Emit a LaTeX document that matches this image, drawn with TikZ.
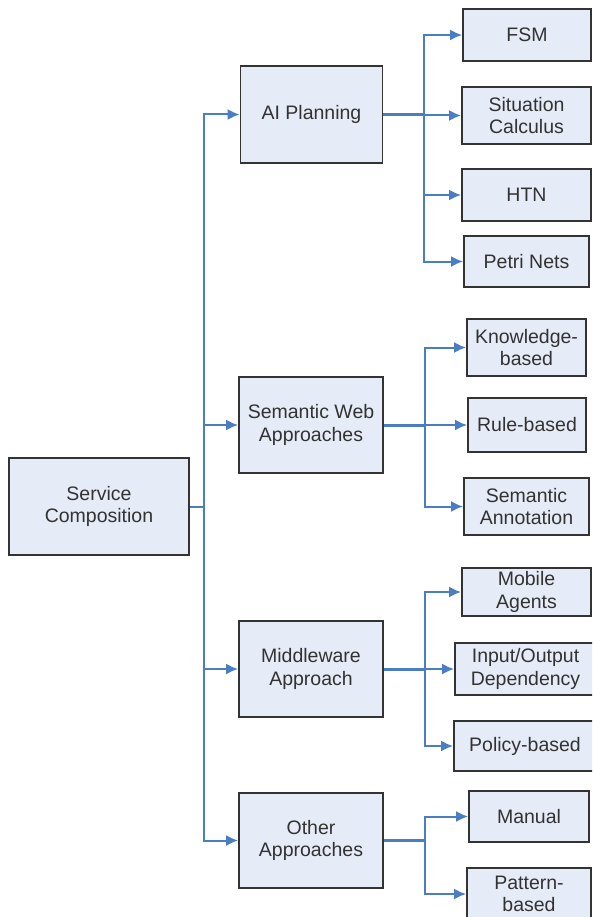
\documentclass[tikz,border=0pt]{standalone}
\usepackage{fontspec}
\setmainfont{Liberation Sans}
\usepackage{tikz}
\usetikzlibrary{arrows.meta, positioning, calc}
\usepackage{color}
\definecolor{boxfill}{RGB}{230,236,247}
\definecolor{linkblue}{RGB}{74,126,196}
\definecolor{txtgray}{RGB}{50,50,50}

\begin{document}
\begin{tikzpicture}[x=1pt, y=-1pt, >={Latex[length=12pt,width=11pt]}, semithick]
\tikzstyle{box}=[draw=black!80, fill=boxfill, line width=1.8pt, align=center, inner sep=0pt, text=txtgray, font=\fontsize{19.5}{22.5}\selectfont]
\tikzstyle{link}=[->, draw=linkblue, line width=2pt]
\tikzstyle{stem}=[draw=linkblue, line width=3pt]
\useasboundingbox (0,0) rectangle (592,917);
\clip (0,0) rectangle (592,917);
% root and the four families
\node[box, minimum width=180, minimum height=97] (SC) at (99,506.5) {Service\\Composition};
\node[box, minimum width=142, minimum height=97] (AI) at (311.5,114.5) {AI Planning};
\node[box, minimum width=144, minimum height=96] (SW) at (311,425) {Semantic Web\\Approaches};
\node[box, minimum width=144, minimum height=96] (MW) at (311,669) {Middleware\\Approach};
\node[box, minimum width=144, minimum height=95] (OA) at (311,840.5) {Other\\Approaches};
% leaves
\node[box, minimum width=128, minimum height=52] (FSM) at (527,35) {FSM};
\node[box, minimum width=129, minimum height=57] (SCalc) at (526.5,115.5) {Situation\\Calculus};
\node[box, minimum width=129, minimum height=52] (HTN) at (526.5,195) {HTN};
\node[box, minimum width=125, minimum height=51] (PN) at (526.5,261.5) {Petri Nets};
\node[box, minimum width=119, minimum height=57] (KB) at (526.5,347.5) {Knowledge-\\based};
\node[box, minimum width=118, minimum height=54] (RB) at (527,425) {Rule-based};
\node[box, minimum width=125, minimum height=57] (SA) at (526.5,506.5) {Semantic\\Annotation};
\node[box, minimum width=129, minimum height=48] (MA) at (526.5,592) {Mobile\\Agents};
\node[box, minimum width=141, minimum height=52] (IO) at (525.5,669) {Input/Output\\Dependency};
\node[box, minimum width=142, minimum height=50] (PB) at (525,746) {Policy-based};
\node[box, minimum width=120, minimum height=51] (MN) at (529,816.5) {Manual};
\node[box, minimum width=124, minimum height=52] (PT) at (529,894) {Pattern-\\based};
% connectors
\foreach \m in {AI,SW,MW,OA}
  \draw[link] (SC.east) -- ++(14,0) |- (\m.west);
\foreach \p/\c in {AI/FSM, AI/SCalc, AI/HTN, AI/PN, SW/KB, SW/RB, SW/SA, MW/MA, MW/IO, MW/PB, OA/MN, OA/PT}
  \draw[link] (\p.east) -- ++(41,0) |- (\c.west);
\foreach \p in {AI,SW,MW,OA}
  \draw[stem] (\p.east) -- ++(41,0);
\end{tikzpicture}
\end{document}
